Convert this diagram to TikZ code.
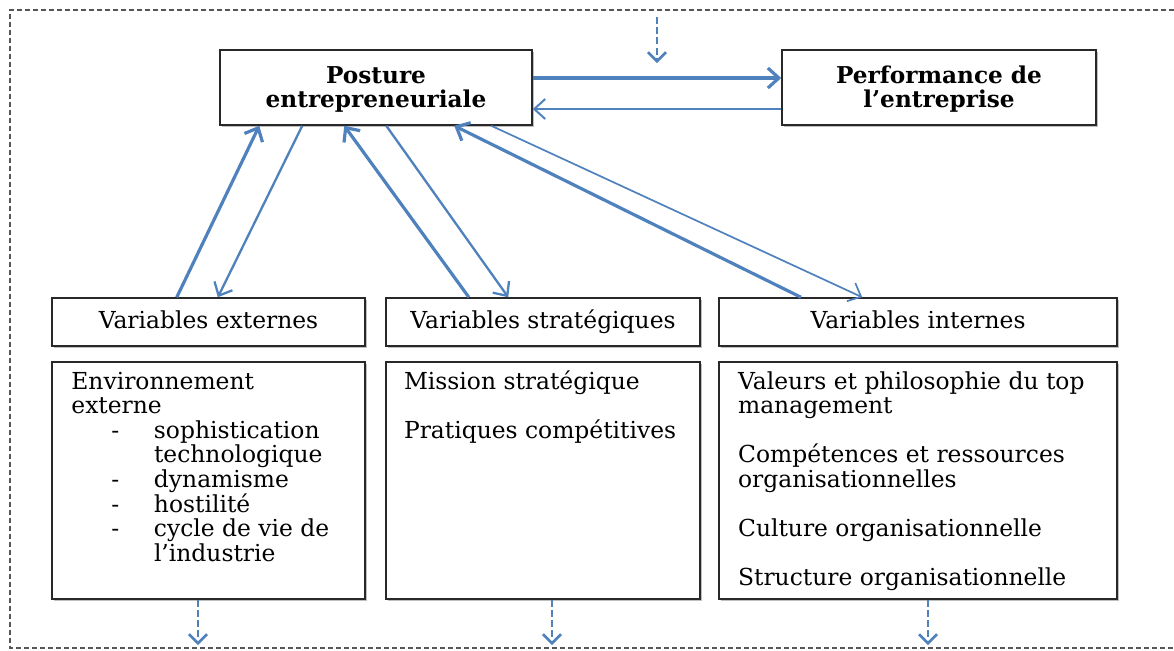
\documentclass[tikz,border=0pt]{standalone}
\usepackage{fontspec}
\setmainfont{DejaVu Serif}
\usetikzlibrary{arrows.meta,shadows,calc}
\definecolor{arrowblue}{RGB}{79,129,189}
\definecolor{boxline}{RGB}{40,40,40}
\definecolor{framegray}{RGB}{85,85,85}
\begin{document}
\begin{tikzpicture}[x=0.5pt,y=-0.5pt,
  box/.style={draw=boxline,line width=0.75pt,fill=white,inner sep=0pt,
    drop shadow={shadow xshift=0.9pt,shadow yshift=-0.9pt,opacity=0.25,fill=black}},
  titletext/.style={font=\fontsize{11.6}{12}\selectfont\bfseries,align=center,inner sep=0pt},
  headtext/.style={font=\fontsize{11.7}{12}\selectfont,inner sep=0pt,anchor=base},
  linetext/.style={font=\fontsize{11.7}{12}\selectfont,anchor=base west,inner sep=0pt},
  tipbarb/.style={-{Straight Barb[length=5.5pt,width=10pt]}},
  thicklink/.style={draw=arrowblue,tipbarb,line width=1.6pt},
  thinlink/.style={draw=arrowblue,tipbarb,line width=1pt},
  dashlink/.style={draw=arrowblue,line width=1.25pt,dash pattern=on 3.5pt off 1.6pt,
    -{Straight Barb[length=4.5pt,width=9pt]}},
  frameline/.style={draw=framegray,line width=0.6pt,dash pattern=on 2.5pt off 1.5pt}
]
\useasboundingbox (0,0) rectangle (1174,650);
\draw[frameline] (1190,10) -- (10,10) -- (10,648) -- (1190,648);

% top boxes
\node[box,minimum width=156pt,minimum height=37.5pt] (post) at (376,87.5) {};
\node[titletext] (postt) at ([yshift=-0.8pt]post.center) {Posture\\entrepreneuriale};
\node[box,minimum width=157pt,minimum height=37.5pt] (perf) at (939,87.5) {};
\node[titletext] (perft) at ([yshift=-0.8pt]perf.center) {Performance de\\l’entreprise};

% header boxes
\node[box,minimum width=156.5pt,minimum height=24pt] (ve) at (208.5,322) {};
\node[headtext] (vet) at ([yshift=-3.2pt]ve.center) {Variables externes};
\node[box,minimum width=157pt,minimum height=24pt] (vs) at (543,322) {};
\node[headtext] (vst) at ([yshift=-3.2pt]vs.center) {Variables stratégiques};
\node[box,minimum width=199pt,minimum height=24pt] (vi) at (918,322) {};
\node[headtext] (vit) at ([yshift=-3.2pt]vi.center) {Variables internes};

% content boxes
\node[box,minimum width=156.5pt,minimum height=118.5pt] (ce) at (208.5,480.5) {};
\node[box,minimum width=157pt,minimum height=118.5pt] (cs) at (543,480.5) {};
\node[box,minimum width=199pt,minimum height=118.5pt] (ci) at (918,480.5) {};

% content texts
\node[linetext] (e1) at (71,389) {Environnement};
\node[linetext] (e2) at (71,413.6) {externe};
\node[linetext] (e3) at (111,438.2) {\makebox[21.3pt][l]{-}sophistication};
\node[linetext] (e4) at (153.6,462.8) {technologique};
\node[linetext] (e5) at (111,487.4) {\makebox[21.3pt][l]{-}dynamisme};
\node[linetext] (e6) at (111,512) {\makebox[21.3pt][l]{-}hostilité};
\node[linetext] (e7) at (111,536.6) {\makebox[21.3pt][l]{-}cycle de vie de};
\node[linetext] (e8) at (153.6,561.2) {l’industrie};

\node[linetext] (s1) at (403.6,389) {Mission stratégique};
\node[linetext] (s2) at (403.6,438.2) {Pratiques compétitives};

\node[linetext] (i1) at (737.7,389) {Valeurs et philosophie du top};
\node[linetext] (i2) at (737.7,413.6) {management};
\node[linetext] (i3) at (737.7,462.8) {Compétences et ressources};
\node[linetext] (i4) at (737.7,487.4) {organisationnelles};
\node[linetext] (i5) at (737.7,536.6) {Culture organisationnelle};
\node[linetext] (i6) at (737.7,585.8) {Structure organisationnelle};

% horizontal links
\draw[thicklink] ([yshift=4.75pt]post.east) -- ([yshift=4.75pt]perf.west);
\draw[thinlink] ([yshift=-10.75pt]perf.west) -- ([yshift=-10.75pt]post.east);

% diagonal links
\draw[thicklink] ([xshift=62.75pt]ve.north west) -- ([xshift=20pt]post.south west);
\draw[thinlink,line width=1.15pt] ([xshift=41.5pt]post.south west) -- ([xshift=83.3pt]ve.north west);
\draw[thicklink] ([xshift=41.8pt]vs.north west) -- ([xshift=62.5pt]post.south west);
\draw[thinlink,line width=1.15pt] ([xshift=83.5pt]post.south west) -- ([xshift=61.5pt]vs.north west);
\draw[thicklink] ([xshift=41.35pt]vi.north west) -- ([xshift=117.5pt]post.south west);
\draw[thinlink,line width=0.85pt] ([xshift=136pt]post.south west) -- ([xshift=72pt]vi.north west);

% dashed arrows
\coordinate (topA) at (657,17);
\coordinate (topB) at (657,63);
\draw[dashlink] (topA) -- (topB);
\coordinate (botE) at (198,645);
\coordinate (botS) at (552,645);
\coordinate (botI) at (928,645);
\draw[dashlink] ([xshift=-5.25pt]ce.south) -- (botE);
\draw[dashlink] ([xshift=4.5pt]cs.south) -- (botS);
\draw[dashlink] ([xshift=5pt]ci.south) -- (botI);
\end{tikzpicture}
\end{document}
